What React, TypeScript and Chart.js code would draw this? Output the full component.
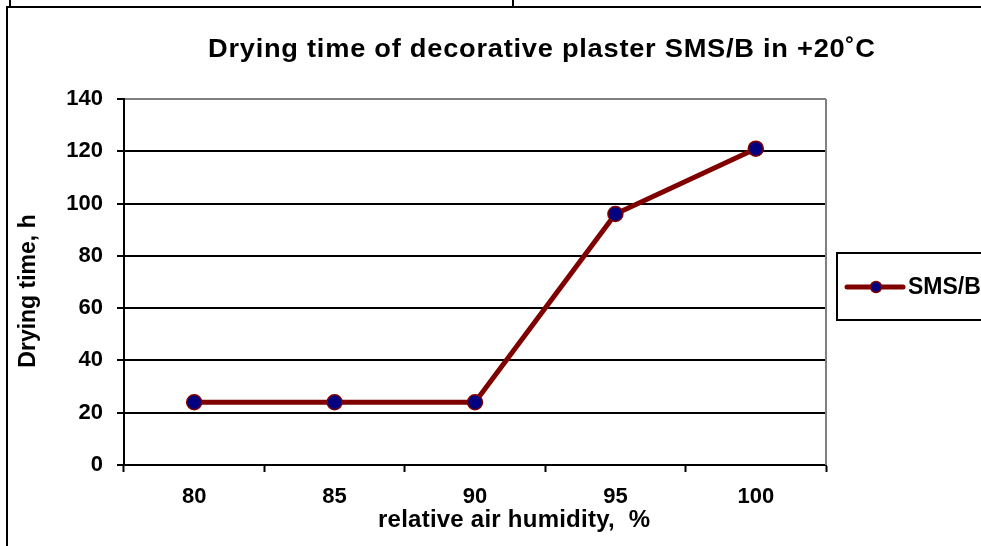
import React, { useEffect, useRef } from "react";
import { Chart, registerables } from "chart.js";

Chart.register(...registerables);

const categories = ["80", "85", "90", "95", "100"];
const dryingTime = [24, 24, 24, 96, 121];
const seriesName = "SMS/B";
const chartTitle = "Drying time of decorative plaster SMS/B in +20˚C";
const xTitle = "relative air humidity,  %";
const yTitle = "Drying time, h";
const yMin = 0;
const yMax = 140;
const yStep = 20;

const FONT = "'Liberation Sans', Arial, Helvetica, sans-serif";
const LINE = "#800000";
const MARK = "#000080";

function spacedText(ctx: any, text: string, left: number, y: number, target: number, sx = 1) {
  ctx.save();
  ctx.textAlign = "left";
  ctx.translate(left, y);
  ctx.scale(sx, 1);
  const w = ctx.measureText(text).width * sx;
  const ls = (target - w) / Math.max(1, text.length - 1) / sx;
  ctx.letterSpacing = `${ls}px`;
  ctx.fillText(text, 0, 0);
  ctx.letterSpacing = "0px";
  ctx.restore();
}

const decorPlugin = {
  id: "decor",
  beforeDraw(chart: any) {
    const { ctx, width, height } = chart;
    ctx.save();
    ctx.fillStyle = "#ffffff";
    ctx.fillRect(0, 0, width, height);
    ctx.strokeStyle = "#000";
    ctx.lineWidth = 2;
    ctx.beginPath();
    ctx.moveTo(7, height);
    ctx.lineTo(7, 7);
    ctx.lineTo(width, 7);
    ctx.moveTo(10, 0);
    ctx.lineTo(10, 6);
    ctx.moveTo(513, 0);
    ctx.lineTo(513, 6);
    ctx.stroke();
    ctx.restore();
  },
  afterDraw(chart: any) {
    const { ctx, chartArea } = chart;
    ctx.save();
    ctx.strokeStyle = "#808080";
    ctx.lineWidth = 2;
    ctx.beginPath();
    ctx.moveTo(chartArea.right, chartArea.top);
    ctx.lineTo(chartArea.right, chartArea.bottom);
    ctx.stroke();

    ctx.fillStyle = "#000";
    ctx.textBaseline = "alphabetic";

    // chart title
    ctx.font = `bold 25px ${FONT}`;
    spacedText(ctx, chartTitle, 208, 57, 667, 1.09);

    // x title
    ctx.font = `bold 24px ${FONT}`;
    spacedText(ctx, xTitle, 378, 527, 272);

    // y title
    ctx.save();
    ctx.translate(35, 291);
    ctx.rotate(-Math.PI / 2);
    ctx.font = `bold 23px ${FONT}`;
    ctx.textAlign = "center";
    ctx.fillText(yTitle, 0, 0);
    ctx.restore();

    // legend
    const lx = 837;
    const ly = 253;
    ctx.strokeStyle = "#000";
    ctx.lineWidth = 2;
    ctx.strokeRect(lx, ly, 200, 67);
    const cy = ly + 34;
    ctx.strokeStyle = LINE;
    ctx.lineWidth = 5;
    ctx.lineCap = "round";
    ctx.beginPath();
    ctx.moveTo(lx + 10, cy);
    ctx.lineTo(lx + 66, cy);
    ctx.stroke();
    ctx.beginPath();
    ctx.arc(lx + 39, cy, 5.5, 0, Math.PI * 2);
    ctx.fillStyle = MARK;
    ctx.fill();
    ctx.lineWidth = 1.5;
    ctx.strokeStyle = LINE;
    ctx.stroke();
    ctx.fillStyle = "#000";
    ctx.font = `bold 23px ${FONT}`;
    ctx.textAlign = "left";
    ctx.textBaseline = "middle";
    ctx.fillText(seriesName, lx + 71, cy + 1);
    ctx.restore();
  },
};

export default function App() {
  const ref = useRef<HTMLCanvasElement | null>(null);

  useEffect(() => {
    if (!ref.current) return;
    const chart = new Chart(ref.current, {
      type: "line",
      data: {
        labels: categories,
        datasets: [
          {
            label: seriesName,
            data: dryingTime,
            borderColor: LINE,
            borderWidth: 5,
            pointRadius: 7.5,
            pointBorderWidth: 1.5,
            pointBackgroundColor: MARK,
            pointBorderColor: LINE,
            tension: 0,
            fill: false,
          },
        ],
      },
      options: {
        responsive: false,
        animation: false,
        devicePixelRatio: 1,
        layout: { padding: { top: 99, right: 155, left: 0, bottom: 0 } },
        plugins: {
          legend: { display: false },
          title: { display: false },
          tooltip: { enabled: false },
        },
        scales: {
          x: {
            type: "category",
            offset: true,
            afterFit: (s: any) => {
              s.height = 81;
            },
            grid: {
              offset: true,
              drawOnChartArea: false,
              drawTicks: true,
              tickLength: 7,
              tickColor: "#000",
              tickWidth: 2,
              color: "#000",
            },
            border: { display: true, color: "#000", width: 2 },
            ticks: {
              color: "#000",
              padding: 12,
              font: { family: FONT, size: 22, weight: "bold" },
            },
          },
          y: {
            min: yMin,
            max: yMax,
            afterFit: (s: any) => {
              s.width = 124;
            },
            grid: {
              color: (c: any) => (c.tick && c.tick.value === yMax ? "#808080" : "#000"),
              lineWidth: 2,
              tickLength: 7,
              tickColor: "#000",
              tickWidth: 2,
            },
            border: { display: true, color: "#000", width: 2 },
            ticks: {
              stepSize: yStep,
              color: "#000",
              padding: 14,
              font: { family: FONT, size: 22, weight: "bold" },
            },
          },
        },
      },
      plugins: [decorPlugin],
    } as any);
    return () => chart.destroy();
  }, []);

  return (
    <div
      style={{
        position: "fixed",
        left: 0,
        top: 0,
        width: 981,
        height: 546,
        background: "#fff",
        overflow: "hidden",
      }}
    >
      <canvas ref={ref} width={981} height={546} style={{ display: "block" }} />
    </div>
  );
}
